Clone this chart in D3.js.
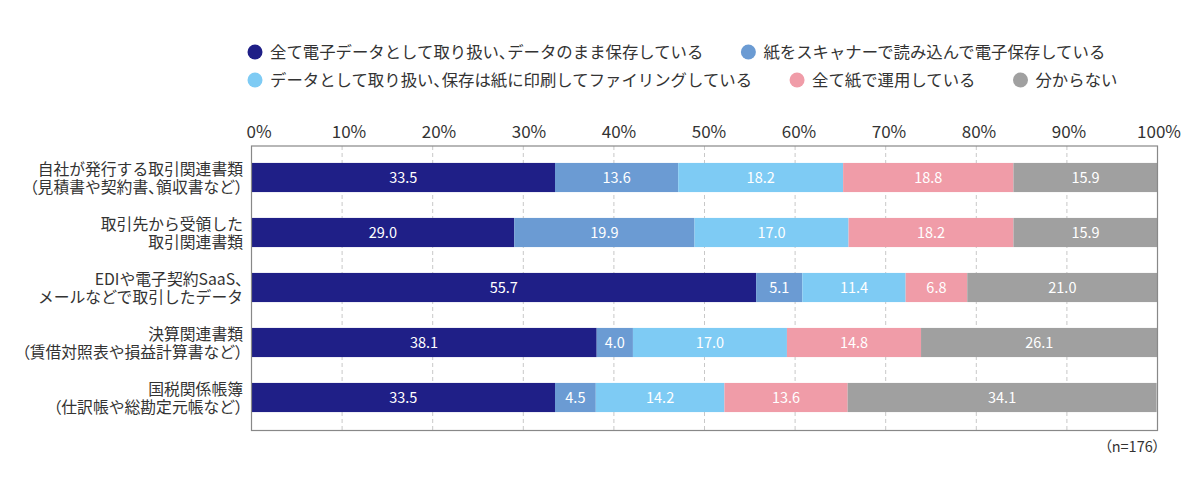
<!DOCTYPE html>
<html><head><meta charset="utf-8">
<script src="https://cdn.jsdelivr.net/npm/d3@7"></script>
<style>
html,body{margin:0;padding:0;background:#fff;}
text{font-family:"Noto Sans CJK JP","Noto Sans",sans-serif;}
.p{font-feature-settings:"palt" 1;}
</style></head>
<body>
<svg id="chart" width="1200" height="499"></svg>
<script>
const categories = [
  ["自社が発行する取引関連書類","（見積書や契約書、領収書など）"],
  ["取引先から受領した","取引関連書類"],
  ["EDIや電子契約SaaS、","メールなどで取引したデータ"],
  ["決算関連書類","（賃借対照表や損益計算書など）"],
  ["国税関係帳簿","（仕訳帳や総勘定元帳など）"]
];
const seriesNames = [
  "全て電子データとして取り扱い、データのまま保存している",
  "紙をスキャナーで読み込んで電子保存している",
  "データとして取り扱い、保存は紙に印刷してファイリングしている",
  "全て紙で運用している",
  "分からない"
];
const electronic = [33.5, 29.0, 55.7, 38.1, 33.5];
const scanned    = [13.6, 19.9, 5.1, 4.0, 4.5];
const printed    = [18.2, 17.0, 11.4, 17.0, 14.2];
const paper      = [18.8, 18.2, 6.8, 14.8, 13.6];
const unknown    = [15.9, 15.9, 21.0, 26.1, 34.1];
const tickValues = [0,10,20,30,40,50,60,70,80,90,100];
const colors = ["#1f1f87","#6b9bd3","#7ecbf4","#f09ca8","#a0a0a0"];
const note = "（n=176）";

const svg = d3.select("#chart");

// write text with proportional spacing on punctuation
function richText(sel, str){
  const parts = str.match(/[（）、]|[^（）、]+/g) || [];
  parts.forEach(p=>{
    const s = sel.append("tspan").text(p);
    if (/[（）、]/.test(p)) s.attr("class","p");
  });
}

const seriesData = [electronic, scanned, printed, paper, unknown];
const rows = categories.map((c,i)=>{
  const o = {idx:i};
  seriesData.forEach((s,k)=>o["s"+k]=s[i]);
  return o;
});
const keys = seriesNames.map((_,k)=>"s"+k);
const stack = d3.stack().keys(keys)(rows);

const x = d3.scaleLinear().domain([0,100]).range([251.5,1157.5]);
const xLabel = d3.scaleLinear().domain([0,100]).range([258.5,1158.5]);
const y = d3.scaleBand().domain(d3.range(categories.length)).range([150,425]).paddingInner(0.47).paddingOuter(0.235);
const frameTop = 146, frameBottom = 430.5;

// gridlines
svg.append("g").selectAll("line").data(tickValues.filter(v=>v>0&&v<100)).join("line")
  .attr("x1",d=>x(d)).attr("x2",d=>x(d)).attr("y1",frameTop).attr("y2",frameBottom)
  .attr("stroke","#c8c8c8").attr("stroke-width",1).attr("stroke-dasharray","4,3");

// axis (top)
const axis = d3.axisTop(xLabel).tickValues(tickValues).tickFormat(d=>d+"%").tickSize(0).tickPadding(0);
const ag = svg.append("g").attr("transform",`translate(0,${frameTop-8})`).call(axis);
ag.select(".domain").remove();
ag.selectAll("text").attr("font-size","17px").attr("fill","#333")
  .style("font-family",'"Noto Sans CJK JP",sans-serif').attr("dy","0");

// bars
const layer = svg.append("g").selectAll("g").data(stack).join("g").attr("fill",(d,i)=>colors[i]);
layer.selectAll("rect").data(d=>d).join("rect")
  .attr("x",d=>x(d[0])).attr("width",d=>x(d[1])-x(d[0]))
  .attr("y",(d,i)=>y(i)).attr("height",y.bandwidth());
layer.selectAll("text").data(d=>d).join("text")
  .attr("x",d=>(x(d[0])+x(d[1]))/2).attr("y",(d,i)=>y(i)+y.bandwidth()/2)
  .attr("dy","0.36em").attr("text-anchor","middle").attr("fill","#fff")
  .attr("font-size","14.5px").text(d=>(d[1]-d[0]).toFixed(1));

// frame
svg.append("rect").attr("x",x(0)).attr("y",frameTop).attr("width",x(100)-x(0)).attr("height",frameBottom-frameTop)
  .attr("fill","none").attr("stroke","#888").attr("stroke-width",1.2);

// category labels
const lg = svg.append("g");
categories.forEach((lines,i)=>{
  const cy = y(i)+y.bandwidth()/2;
  lines.forEach((ln,j)=>{
    const t = lg.append("text").attr("x",243).attr("y",cy + (j===0?-8.5:9.5)).attr("dy","0.36em")
      .attr("text-anchor","end").attr("font-size","15.8px").attr("fill","#333");
    richText(t, ln);
  });
});

// legend
const legRows = [[0,1],[2,3,4]];
const legY = [52,80];
legRows.forEach((r,ri)=>{
  let cx = 255;
  r.forEach(k=>{
    const g = svg.append("g");
    g.append("circle").attr("cx",cx).attr("cy",legY[ri]).attr("r",7.5).attr("fill",colors[k]);
    const t = g.append("text").attr("x",cx+15).attr("y",legY[ri]).attr("dy","0.36em")
      .attr("font-size","16.4px").attr("fill","#333");
    richText(t, seriesNames[k]);
    cx = cx + 15 + t.node().getComputedTextLength() + 45;
  });
});

// note
const nt = svg.append("text").attr("x",1160).attr("y",447).attr("dy","0.36em").attr("text-anchor","end")
  .attr("font-size","14.5px").attr("fill","#333");
richText(nt, note);
</script>
</body></html>
